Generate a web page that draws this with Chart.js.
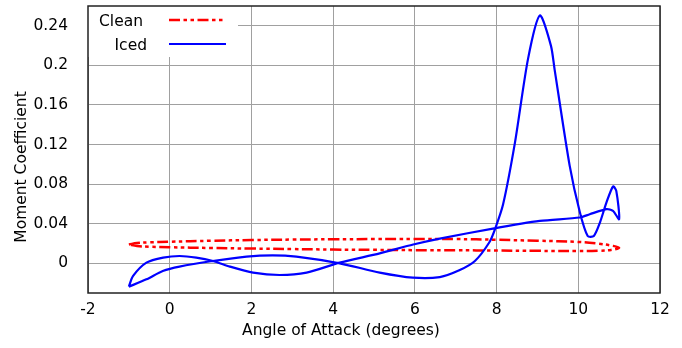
<!DOCTYPE html>
<html>
<head>
<meta charset="utf-8">
<script src="https://cdn.jsdelivr.net/npm/chart.js@4/dist/chart.umd.min.js"></script>
<style>
  html, body { margin: 0; padding: 0; background: #fff; }
  #wrap { width: 682px; height: 348px; }
</style>
</head>
<body>
<div id="wrap"><canvas id="chartMoment" width="682" height="348"></canvas></div>
<script>
// tick values
const xTicks = [-2, 0, 2, 4, 6, 8, 10, 12];
const yTicks = [0, 0.04, 0.08, 0.12, 0.16, 0.2, 0.24];

// clean airfoil loop (upper branch left->right, then lower branch back)
const cleanX = [-1.0, -0.8, -0.5, 0, 1, 2, 3, 4, 5, 6, 7, 8, 9, 10, 10.5, 10.8, 11.0,
  10.8, 10.5, 10, 9, 8, 7, 6, 5, 4, 3, 2, 1, 0, -0.5, -0.8, -1.0];
const cleanY = [0.019, 0.0205, 0.0212, 0.0218, 0.0228, 0.0235, 0.024, 0.0243, 0.0245, 0.0246, 0.0245, 0.0238, 0.0228, 0.0216, 0.0198, 0.018, 0.0158,
  0.0135, 0.0127, 0.0124, 0.0126, 0.0129, 0.0132, 0.0133, 0.0136, 0.0139, 0.0144, 0.0149, 0.0155, 0.0162, 0.0168, 0.0175, 0.019];

// iced airfoil loop
const icedX = [-1.0, -0.9, -0.57, -0.16, 0.24, 0.65, 1.06, 1.47, 2.04, 2.69, 3.35, 4.16, 5.14, 5.96, 6.61, 7.91, 9.06, 10.04, 10.28, 10.69, 10.85, 11.0,
  10.93, 10.85, 10.69, 10.53, 10.38, 10.23, 10.04, 9.79, 9.42, 9.33, 9.06, 8.77, 8.45, 8.16, 7.96, 7.82, 7.47, 7.1, 6.61, 5.95, 5.14, 4.16, 3.1, 2.52, 1.88, 1.05, 0.24, -0.17, -0.57, -1.0];
const icedY = [-0.0236, -0.0129, 0.0007, 0.0058, 0.0074, 0.0058, 0.0023, -0.0033, -0.0094, -0.0118, -0.0094, 0.0007, 0.010, 0.019, 0.025, 0.0351, 0.0428, 0.0463, 0.0496, 0.0547, 0.053, 0.0446,
  0.0732, 0.0777, 0.0615, 0.0412, 0.0276, 0.0276, 0.0513, 0.0985, 0.196, 0.22, 0.2504, 0.2066, 0.122, 0.0597, 0.0344, 0.021, 0.0023, -0.0068, -0.0139, -0.0145, -0.0094, 0, 0.0068, 0.0081, 0.0068, 0.0023, -0.0033, -0.0078, -0.0162, -0.0236];

const FONT = '"DejaVu Sans", sans-serif';
const DASH_DOT_DOT = [11, 3.5, 3.5, 3.5, 3.5, 3.5];

function pts(xs, ys) {
  return xs.map((x, i) => ({ x, y: ys[i] }));
}

// frame, inside legend and axis titles
const decorations = {
  id: 'decorations',
  afterDatasetsDraw(chart) {
    const { ctx, chartArea: a } = chart;
    ctx.save();
    // legend box (covers grid)
    ctx.fillStyle = '#fff';
    ctx.fillRect(a.left, a.top, 150, 51);
    ctx.font = '15.5px ' + FONT;
    ctx.fillStyle = '#000';
    ctx.textAlign = 'right';
    ctx.textBaseline = 'middle';
    ctx.fillText('Clean', a.left + 55, a.top + 16);
    ctx.fillText('Iced', a.left + 59, a.top + 40);

    ctx.lineWidth = 2.5;
    ctx.strokeStyle = '#ff0000';
    ctx.setLineDash(DASH_DOT_DOT);
    ctx.beginPath();
    ctx.moveTo(a.left + 81, a.top + 14);
    ctx.lineTo(a.left + 138, a.top + 14);
    ctx.stroke();
    ctx.setLineDash([]);
    ctx.lineWidth = 2.2;
    ctx.strokeStyle = '#0000ff';
    ctx.beginPath();
    ctx.moveTo(a.left + 81, a.top + 38);
    ctx.lineTo(a.left + 138, a.top + 38);
    ctx.stroke();

    // frame
    ctx.lineWidth = 1.5;
    ctx.strokeStyle = '#222';
    ctx.strokeRect(a.left, a.top, a.right - a.left, a.bottom - a.top);

    // axis titles
    ctx.fillStyle = '#000';
    ctx.textAlign = 'center';
    ctx.fillText('Angle of Attack (degrees)', 341, 331);
    ctx.translate(22, 167);
    ctx.rotate(-Math.PI / 2);
    ctx.fillText('Moment Coefficient', 0, 0);
    ctx.restore();
  }
};

function pinY(s) {
  s.width = 88;
  s.paddingTop = 0;
  s.paddingBottom = 0;
}

function pinX(s) {
  s.height = 55;
  s.paddingLeft = 0;
  s.paddingRight = 0;
}

new Chart(document.getElementById('chartMoment').getContext('2d'), {
  type: 'scatter',
  data: {
    datasets: [
      {
        label: 'Clean',
        data: pts(cleanX, cleanY),
        showLine: true,
        borderColor: '#ff0000',
        borderWidth: 2.5,
        borderDash: DASH_DOT_DOT,
        tension: 0.4,
        pointRadius: 0,
        fill: false,
        order: 1
      },
      {
        label: 'Iced',
        data: pts(icedX, icedY),
        showLine: true,
        borderColor: '#0000ff',
        borderWidth: 2.2,
        tension: 0.25,
        pointRadius: 0,
        fill: false,
        order: 0
      }
    ]
  },
  options: {
    responsive: false,
    devicePixelRatio: 1,
    animation: false,
    layout: { padding: { left: 0, top: 6, right: 22, bottom: 0 } },
    plugins: {
      legend: { display: false },
      tooltip: { enabled: false }
    },
    scales: {
      x: {
        type: 'linear',
        min: -2,
        max: 12,
        afterBuildTicks: s => { s.ticks = xTicks.map(v => ({ value: v })); },
        afterFit: pinX,
        ticks: { color: '#000', font: { family: FONT, size: 15.5 }, padding: 8, maxRotation: 0 },
        grid: { color: '#a0a0a0', lineWidth: 1, drawTicks: false },
        border: { display: false }
      },
      y: {
        type: 'linear',
        min: -0.03,
        max: 0.26,
        afterBuildTicks: s => { s.ticks = yTicks.map(v => ({ value: v })); },
        afterFit: pinY,
        ticks: {
          color: '#000',
          font: { family: FONT, size: 15.5 },
          padding: 20,
          callback: v => String(Number(v.toFixed(2)))
        },
        grid: { color: '#a0a0a0', lineWidth: 1, drawTicks: false },
        border: { display: false }
      }
    }
  },
  plugins: [decorations]
});
</script>
</body>
</html>
